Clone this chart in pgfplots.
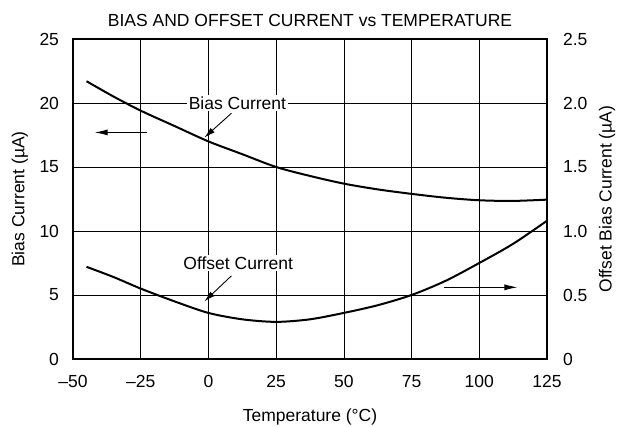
\documentclass[border=0pt]{standalone}
\usepackage{pgfplots}
\pgfplotsset{compat=1.18}
\usetikzlibrary{arrows.meta}
\usepackage{fontspec}
\setmainfont{Liberation Sans}
\begin{document}
\fontsize{17.5}{20}\selectfont
\begin{tikzpicture}
\useasboundingbox (-73pt,-68pt) rectangle (562pt,359pt);
\begin{axis}[
  at={(0,0)}, anchor=south west,
  scale only axis, width=474pt, height=320pt,
  xmin=-50, xmax=125, ymin=0, ymax=25,
  xtick={-50,-25,0,25,50,75,100,125},
  xticklabels={\textendash50,\textendash25,0,25,50,75,100,125},
  ytick={0,5,10,15,20,25},
  yticklabels={0,5,10,15,20,25},
  axis y line*=left,
  axis x line*=box,
  grid=major, major grid style={black, line width=0.7pt},
  major tick length=0pt,
  axis line style={line width=2pt},
  xlabel={Temperature (°C)}, ylabel={Bias Current (µA)},
  title={BIAS AND OFFSET CURRENT vs TEMPERATURE},
  title style={at={(axis description cs:0.5,1.043)}, anchor=base, yshift=-7pt, font=\fontsize{17.5}{20}\selectfont},
  xlabel style={at={(axis description cs:0.5,-0.19)}, anchor=base, yshift=-2pt},
  ylabel style={at={(axis description cs:-0.112,0.5)}, anchor=center},
  xticklabel style={yshift=-10pt},
  yticklabel style={xshift=-8pt},
  tick label style={font=\fontsize{17.5}{20}\selectfont},
  label style={font=\fontsize{17.5}{20}\selectfont},
  clip=false,
]
\addplot[black, line width=2pt, smooth] coordinates {
(-45,21.7) (-35,20.5) (-25,19.4) (-12.5,18.2) (0,17.0) (12.5,16.0) (25,15.0) (37.5,14.3) (50,13.7) (62.5,13.25) (75,12.9) (87.5,12.6) (100,12.4) (112.5,12.35) (125,12.45)};
\node[fill=white, inner sep=2pt] at (axis cs:10.7,20) {Bias Current};
\node[fill=white, inner sep=2pt] at (axis cs:11,7.5) {Offset Current};
\draw[-{Latex[length=11pt,width=6pt]}, line width=0.9pt] (axis cs:8.5,19.2) -- (axis cs:-1.5,17.3);
\draw[-{Latex[length=11pt,width=6pt]}, line width=0.9pt] (axis cs:8.5,6.5) -- (axis cs:-1.5,4.5);
\draw[-{Latex[length=13pt,width=6pt]}, line width=0.9pt] (axis cs:-22.5,17.7) -- (axis cs:-42,17.7);
\draw[-{Latex[length=13pt,width=6pt]}, line width=0.9pt] (axis cs:86.9,5.6) -- (axis cs:114.1,5.6);
\draw[line width=2pt] (axis cs:-50,0) rectangle (axis cs:125,25);
\end{axis}
\begin{axis}[
  at={(0,0)}, anchor=south west,
  scale only axis, width=474pt, height=320pt,
  xmin=-50, xmax=125, ymin=0, ymax=2.5,
  axis y line*=right, axis x line=none,
  ytick={0,0.5,1,1.5,2,2.5},
  yticklabels={0,0.5,1.0,1.5,2.0,2.5},
  major tick length=0pt,
  axis line style={line width=2pt},
  ylabel={Offset Bias Current (µA)},
  ylabel style={at={(axis description cs:1.1266,0.5)}, anchor=center},
  yticklabel style={xshift=10pt},
  tick label style={font=\fontsize{17.5}{20}\selectfont},
  label style={font=\fontsize{17.5}{20}\selectfont},
]
\addplot[black, line width=2pt, smooth] coordinates {
(-45,0.72) (-35,0.64) (-25,0.55) (-12.5,0.45) (0,0.36) (12.5,0.31) (25,0.29) (37.5,0.31) (50,0.36) (62.5,0.42) (75,0.50) (87.5,0.61) (100,0.75) (112.5,0.90) (125,1.08)};
\end{axis}
\end{tikzpicture}
\end{document}
